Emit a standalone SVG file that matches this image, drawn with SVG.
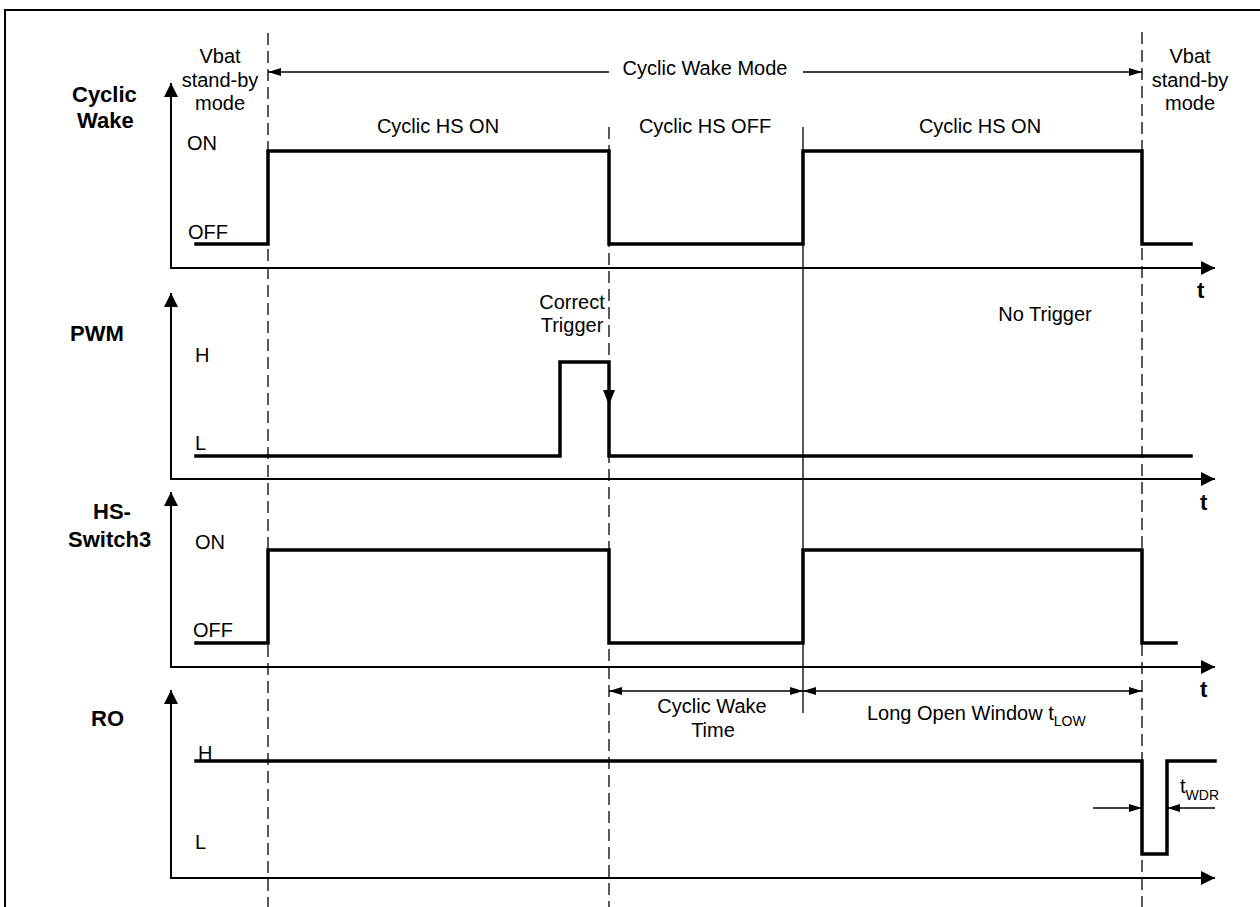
<svg xmlns="http://www.w3.org/2000/svg" width="1260" height="907" viewBox="0 0 1260 907">
<style>
text{font-family:"Liberation Sans",Arial,sans-serif;fill:#000}
.r{font-size:20px}
.b{font-size:22px;font-weight:bold}
.s{font-size:14px}
.m{text-anchor:middle}
.axis{fill:none;stroke:#000;stroke-width:2;marker-start:url(#ax);marker-end:url(#ax)}
.sig{fill:none;stroke:#000;stroke-width:3.5;stroke-linejoin:miter;stroke-linecap:square}
.dash{fill:none;stroke:#000;stroke-width:1.3;stroke-dasharray:12 6}
.thin{fill:none;stroke:#000;stroke-width:1.3}
.dim{fill:none;stroke:#000;stroke-width:1.3;marker-end:url(#dm)}
.dim2{fill:none;stroke:#000;stroke-width:1.3;marker-start:url(#dm);marker-end:url(#dm)}
</style>
<defs>
<marker id="ax" viewBox="0 0 14 14" refX="14" refY="7" markerWidth="14" markerHeight="14" markerUnits="userSpaceOnUse" orient="auto-start-reverse"><path d="M0,0 L14,7 L0,14 z" fill="#000"/></marker>
<marker id="dm" viewBox="0 0 13 8" refX="13" refY="4" markerWidth="13" markerHeight="8" markerUnits="userSpaceOnUse" orient="auto-start-reverse"><path d="M0,0 L13,4 L0,8 z" fill="#000"/></marker>
</defs>
<rect width="1260" height="907" fill="#fff"/>
<g id="frame"><path d="M5,907 L5,10 L1260,10" fill="none" stroke="#000" stroke-width="2"/></g>

<g id="time-markers">
<line class="dash" x1="268" y1="33" x2="268" y2="907"/>
<line class="dash" x1="609" y1="127" x2="609" y2="907"/>
<line class="thin" x1="803" y1="127" x2="803" y2="713"/>
<line class="dash" x1="1142" y1="32" x2="1142" y2="907"/>
</g>

<g id="mode-labels">
<text class="r m" x="220" y="63">Vbat</text>
<text class="r m" x="220" y="87">stand-by</text>
<text class="r m" x="220" y="110">mode</text>
<text class="r m" x="1190" y="63">Vbat</text>
<text class="r m" x="1190" y="87">stand-by</text>
<text class="r m" x="1190" y="110">mode</text>
<text class="r m" x="705" y="75">Cyclic Wake Mode</text>
<text class="r m" x="438" y="133">Cyclic HS ON</text>
<text class="r m" x="705" y="133">Cyclic HS OFF</text>
<text class="r m" x="980" y="133">Cyclic HS ON</text>
</g>

<g id="cyclic-wake">
<text class="b" x="72" y="102">Cyclic</text>
<text class="b" x="77" y="128">Wake</text>
<path class="axis" d="M171,83 L171,268 L1215,268"/>
<text class="b" x="1197" y="298">t</text>
<text class="r" x="187" y="150">ON</text>
<text class="r" x="188" y="239">OFF</text>
<path class="sig" d="M196,244 H268 V151 H609 V244 H803 V151 H1142 V244 H1191"/>
</g>

<g id="pwm">
<text class="b" x="70" y="341">PWM</text>
<path class="axis" d="M171,293 L171,479 L1215,479"/>
<text class="b" x="1200" y="510">t</text>
<text class="r" x="195" y="362">H</text>
<text class="r" x="195" y="450">L</text>
<path class="sig" d="M196,456 H560 V362 H609 V456 H1191"/>
<polygon points="603,390 615,390 609,405" fill="#000"/>
<text class="r m" x="572" y="309">Correct</text>
<text class="r m" x="572" y="332">Trigger</text>
<text class="r m" x="1045" y="321">No Trigger</text>
</g>

<g id="hs-switch3">
<text class="b" x="93" y="519">HS-</text>
<text class="b" x="68" y="547">Switch3</text>
<path class="axis" d="M171,492 L171,667 L1215,667"/>
<text class="b" x="1200" y="697">t</text>
<text class="r" x="195" y="549">ON</text>
<text class="r" x="193" y="637">OFF</text>
<path class="sig" d="M196,643 H268 V550 H609 V643 H803 V550 H1142 V643 H1176"/>
</g>

<g id="ro">
<text class="b" x="91" y="726">RO</text>
<path class="axis" d="M171,690 L171,878 L1215,878"/>
<text class="r" x="198" y="760">H</text>
<text class="r" x="195" y="849">L</text>
<path class="sig" d="M196,761 H1142 V854 H1167 V761 H1215"/>
</g>

<g id="connectors">
<line class="dim" x1="609" y1="72" x2="268" y2="72"/>
<line class="dim" x1="803" y1="72" x2="1142" y2="72"/>
<line class="dim2" x1="609" y1="691" x2="803" y2="691"/>
<line class="dim2" x1="803" y1="691" x2="1142" y2="691"/>
<line class="dim" x1="1093" y1="808" x2="1142" y2="808"/>
<line class="dim" x1="1215" y1="808" x2="1167" y2="808"/>
</g>

<g id="interval-labels">
<text class="r m" x="712" y="713">Cyclic Wake</text>
<text class="r m" x="713" y="737">Time</text>
<text class="r" x="867" y="720">Long Open Window t<tspan class="s" dy="6">LOW</tspan></text>
<text class="r" x="1180" y="793">t<tspan class="s" dy="7">WDR</tspan></text>
</g>
</svg>
